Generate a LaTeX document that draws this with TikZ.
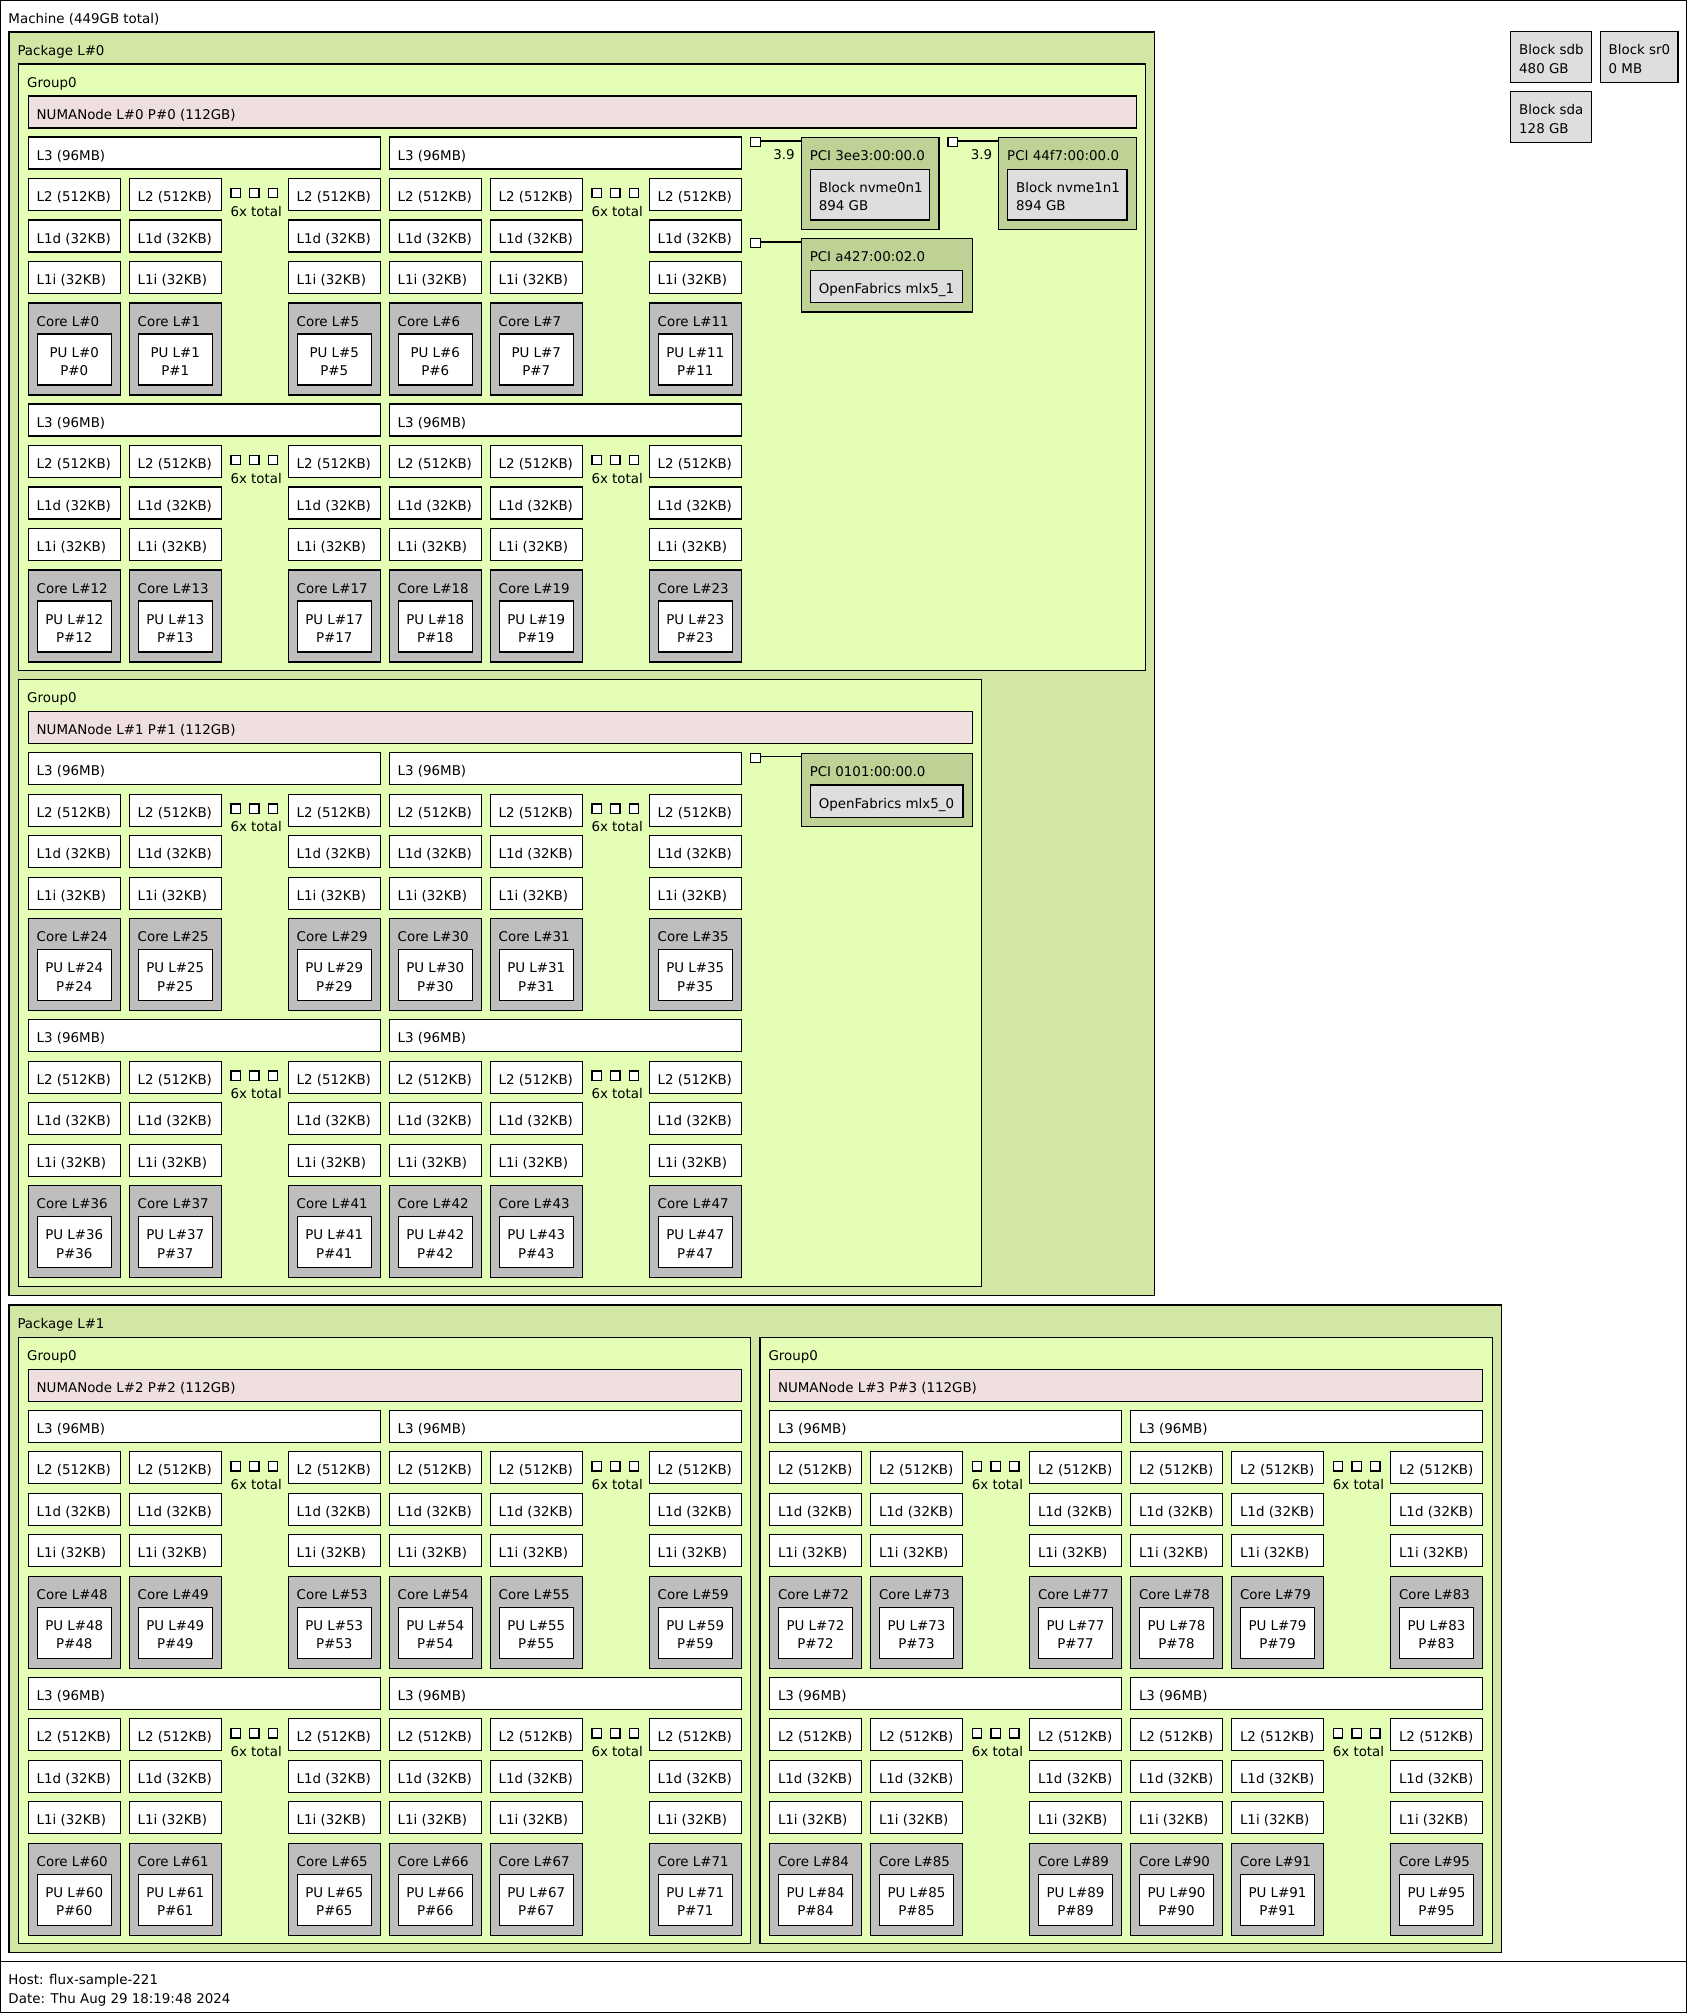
\documentclass[tikz,border=0pt]{standalone}
\usepackage{fontspec}
\setmainfont{DejaVu Sans}
\usetikzlibrary{positioning}

\definecolor{packagecol}{RGB}{210,231,164}
\definecolor{groupcol}{RGB}{228,255,181}
\definecolor{numacol}{RGB}{239,223,222}
\definecolor{corecol}{RGB}{190,190,190}
\definecolor{pcicol}{RGB}{190,210,149}
\definecolor{osdevcol}{RGB}{222,222,222}

\tikzset{
  hwbox/.style={draw=black, line width=1.2pt, anchor=north west, inner sep=0pt, outer sep=0pt},
  hwtxt/.style={anchor=base west, inner sep=0pt, outer sep=0pt, font=\fontsize{13.4}{18.5}\selectfont},
  link/.style={draw=black, line width=1.2pt},
}

% box with its title in the top left corner: name, colour, x, y, width, height, title
\newcommand\hwobj[7]{%
  \node[hwbox, fill=#2, minimum width=#5pt, minimum height=#6pt] (#1) at (#3,#4) {};
  \node[hwtxt] (#1-t) at (#3+8.5,#4+23) {#7};
}
% same with a second line
\newcommand\hwobjtwo[8]{%
  \hwobj{#1}{#2}{#3}{#4}{#5}{#6}{#7}
  \node[hwtxt] (#1-s) at (#3+8.5,#4+41.5) {#8};
}
% processing unit: name, x, y, number
\newcommand\punode[4]{%
  \node[hwbox, fill=white, minimum width=74pt, minimum height=51pt] (#1) at (#2,#3) {};
  \node[hwtxt, anchor=base] (#1-t) at (#2+37,#3+23) {PU L\##4};
  \node[hwtxt, anchor=base] (#1-s) at (#2+37,#3+41.5) {P\##4};
}
% one L3 with the three cores shown under it: name, x, y, first core
\newcommand\lthreeblock[4]{%
  \hwobj{#1}{white}{#2}{#3}{352}{32}{L3 (96MB)}
  \foreach \k/\dx/\dc in {a/0/0,b/101/1,c/260/5}{
    \pgfmathtruncatemacro\cn{#4+\dc}
    \hwobj{#1\k-ltwo}{white}{#2+\dx}{#3+41.5}{92}{32}{L2 (512KB)}
    \hwobj{#1\k-lonedata}{white}{#2+\dx}{#3+83}{92}{32}{L1d (32KB)}
    \hwobj{#1\k-loneinst}{white}{#2+\dx}{#3+124.5}{92}{32}{L1i (32KB)}
    \hwobj{#1\k-core}{corecol}{#2+\dx}{#3+166}{92}{92}{Core L\#\cn}
    \punode{#1\k-pu}{#2+\dx+9}{#3+197}{\cn}
  }
  % the cores left out
  \foreach \m in {0,1,2}
    \node[hwbox, fill=white, minimum size=9.3pt] (#1-dot\m) at (#2+202.7+18.7*\m,#3+51.3) {};
  \node[hwtxt, anchor=base] (#1-more) at (#2+228,#3+79) {6x total};
}
% group with its NUMA node and four L3: name, x, y, width, numa title, first core
\newcommand\numagroup[6]{%
  \hwobj{#1}{groupcol}{#2}{#3}{#4}{606.5}{Group0}
  \pgfmathsetmacro\numaw{#4-19}
  \hwobj{#1-numa}{numacol}{#2+9.5}{#3+32}{\numaw}{32}{#5}
  \foreach \i in {0,1}{
    \foreach \j in {0,1}{
      \pgfmathtruncatemacro\first{#6+12*\i+6*\j}
      \lthreeblock{#1-\i\j}{#2+9.5+361*\j}{#3+73+267*\i}{\first}
    }
  }
}

\begin{document}
\begin{tikzpicture}[x=1pt, y=-1pt]
  \useasboundingbox (0,0) rectangle (1687,2013);
  %% machine and legend
  \node[hwbox, fill=white, minimum width=1686pt, minimum height=1961pt] (machine) at (0.6,0.6) {};
  \node[hwtxt] (machine-t) at (8.5,23) {Machine (449GB total)};
  \node[hwbox, fill=white, minimum width=1685.8pt, minimum height=50.6pt] (legend) at (0.6,1961.7) {};
  \node[hwtxt] (host) at (8.5,1984.7) {Host: flux-sample-221};
  \node[hwtxt] (date) at (8.5,2003.2) {Date: Thu Aug 29 18:19:48 2024};

  %% packages
  \hwobj{pkga}{packagecol}{9}{32}{1145.7}{1263.3}{Package L\#0}
  \hwobj{pkgb}{packagecol}{9}{1305}{1492.7}{647.7}{Package L\#1}

  %% groups
  \numagroup{ga}{18.7}{64}{1127}{NUMANode L\#0 P\#0 (112GB)}{0}
  \numagroup{gb}{18.7}{679.7}{963}{NUMANode L\#1 P\#1 (112GB)}{24}
  \numagroup{gc}{18.7}{1337.3}{732}{NUMANode L\#2 P\#2 (112GB)}{48}
  \numagroup{gd}{760}{1337.3}{732.3}{NUMANode L\#3 P\#3 (112GB)}{72}

  %% PCI devices of the first package
  \node[hwbox, fill=white, minimum width=9.6pt, minimum height=9.3pt] (hba) at (750.7,137.5) {};
  \hwobj{pcia}{pcicol}{801.3}{137.5}{137.7}{91.7}{PCI 3ee3:00:00.0}
  \hwobjtwo{nvmea}{osdevcol}{810.3}{169.3}{119.4}{50.7}{Block nvme0n1}{894 GB}
  \draw[link] ([yshift=-3.5pt]hba.north east) -- ([yshift=-3.5pt]pcia.north west);
  \node[hwtxt, anchor=base] (bwa) at (784,159.2) {3.9};

  \node[hwbox, fill=white, minimum width=9.6pt, minimum height=9.3pt] (hbb) at (948,137.5) {};
  \hwobj{pcib}{pcicol}{998.7}{137.5}{137.6}{91.7}{PCI 44f7:00:00.0}
  \hwobjtwo{nvmeb}{osdevcol}{1007.7}{169.3}{119.3}{50.7}{Block nvme1n1}{894 GB}
  \draw[link] ([yshift=-3.5pt]hbb.north east) -- ([yshift=-3.5pt]pcib.north west);
  \node[hwtxt, anchor=base] (bwb) at (981.5,159.2) {3.9};

  \node[hwbox, fill=white, minimum width=9.6pt, minimum height=9.3pt] (hbc) at (750.7,238.5) {};
  \hwobj{pcic}{pcicol}{801.3}{238.5}{171}{73.5}{PCI a427:00:02.0}
  \hwobj{ofa}{osdevcol}{810.3}{270.7}{152.4}{32}{OpenFabrics mlx5\_1}
  \draw[link] ([yshift=-3.5pt]hbc.north east) -- ([yshift=-3.5pt]pcic.north west);

  \node[hwbox, fill=white, minimum width=9.6pt, minimum height=9.3pt] (hbd) at (750.7,753.3) {};
  \hwobj{pcid}{pcicol}{801.3}{753.3}{171}{73}{PCI 0101:00:00.0}
  \hwobj{ofb}{osdevcol}{810.3}{785}{152.7}{32.3}{OpenFabrics mlx5\_0}
  \draw[link] ([yshift=-3.5pt]hbd.north east) -- ([yshift=-3.5pt]pcid.north west);

  %% disks outside the packages
  \hwobjtwo{sdb}{osdevcol}{1510.7}{31.7}{80.5}{51}{Block sdb}{480 GB}
  \hwobjtwo{srzero}{osdevcol}{1600.2}{31.7}{77.8}{51}{Block sr0}{0 MB}
  \hwobjtwo{sda}{osdevcol}{1510.7}{91.7}{80.5}{51}{Block sda}{128 GB}
\end{tikzpicture}
\end{document}
